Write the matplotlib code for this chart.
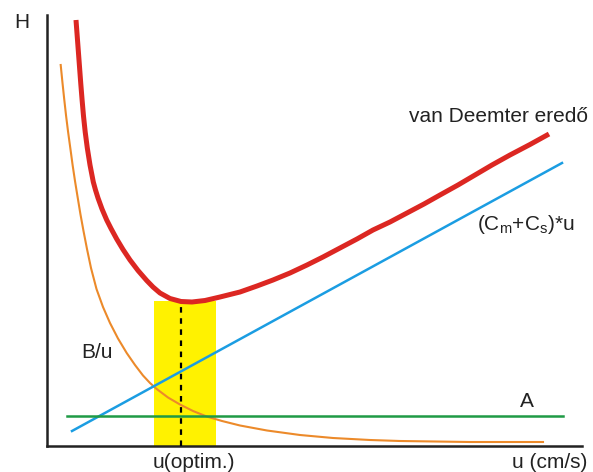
import matplotlib
matplotlib.use("Agg")
import matplotlib.pyplot as plt

plt.rcParams['font.family'] = ['Liberation Sans', 'DejaVu Sans']
plt.rcParams['mathtext.fontset'] = 'custom'
plt.rcParams['mathtext.rm'] = 'Liberation Sans'
plt.rcParams['mathtext.it'] = 'Liberation Sans'

# van Deemter eredő (arbitrary units)
red_x = [29, 30.2, 31.4, 32.6, 33.8, 35.1, 36.5, 38.2, 40.3, 43, 46.3, 48.5, 51, 55, 59.7,
         64, 69.7, 76, 83, 91, 99.7, 106, 113, 123, 134, 145, 158, 173, 193, 210, 226,
         243, 260, 276, 293, 310, 326, 343, 360, 377, 393, 411, 428, 445, 463, 483, 502]
red_y = [426, 410, 394, 378, 362, 346, 330, 314, 298, 281, 264, 256, 248, 237, 226,
         217.5, 207, 196.5, 186, 175.5, 165.5, 159, 153, 147.5, 144.5, 144, 145.5, 149,
         154, 160, 166, 173, 181, 189, 198, 207, 216, 224, 233, 242, 251, 261, 271, 281,
         291, 301.5, 312]

# B/u
orange_x = [13.7, 15.4, 17.2, 19.1, 21.1, 23.3, 25.6, 28, 30.6, 33.4, 36.5, 40, 44, 49.5,
            56, 63, 71, 79.7, 88, 96, 103, 109.7, 121, 133, 146, 159.7, 175, 193, 220,
            253, 286, 323, 353, 423, 496]
orange_y = [381, 364, 347, 330, 314, 298, 281, 265, 249, 232, 215, 197, 178, 157,
            139, 123, 107.5, 93, 81, 70.5, 63, 57, 48.5, 41.5, 35, 29.5, 25, 20.5, 15.5,
            11, 8, 6, 5, 4, 4]

# (Cm+Cs)*u
blue_x = [25, 515]
blue_y = [15, 283]

# A
green_x = [20, 516]
green_y = [30, 30]

u_opt = 134
band = [107, 169]
band_top = 145

fig = plt.figure(figsize=(5.93, 4.72), dpi=100)
ax = fig.add_axes([47 / 593, 26 / 472, 535 / 593, 431 / 472])
ax.set_xlim(0, 535)
ax.set_ylim(0, 431)

ax.fill_between(band, 0, band_top, color='#fff200', lw=0, zorder=1)
ax.plot(orange_x, orange_y, color='#ec8a2a', lw=1.5, solid_joinstyle='round', zorder=2)
ax.plot(blue_x, blue_y, color='#1b9de2', lw=1.8, zorder=2)
ax.plot(green_x, green_y, color='#1f9a45', lw=1.8, zorder=2)
ax.vlines(u_opt, 0, band_top, colors='black', lw=1.6, linestyles=(0, (2.5, 2.5)), zorder=3)
ax.plot(red_x, red_y, color='#dc2722', lw=3.6, solid_capstyle='butt',
        solid_joinstyle='round', zorder=4)

for s in ['top', 'right']:
    ax.spines[s].set_visible(False)
for s in ['left', 'bottom']:
    ax.spines[s].set_linewidth(1.8)
    ax.spines[s].set_color('#222222')
ax.set_xticks([])
ax.set_yticks([])

fs = 15
ax.text(-33, 418, 'H', fontsize=fs, color='#222222', clip_on=False)
ax.text(362, 324, 'van Deemter eredő', fontsize=fs, color='#222222', clip_on=False)
ax.text(430, 216, r'(C$_{\rm m}$+C$_{\rm s}$)*u', fontsize=fs, color='#222222', clip_on=False)
ax.text(34, 88, 'B/u', fontsize=fs, color='#222222')
ax.text(473, 39, 'A', fontsize=fs, color='#222222')
ax.text(147, -22, 'u(optim.)', fontsize=fs, color='#222222', ha='center', clip_on=False)
ax.text(465, -22, 'u (cm/s)', fontsize=fs, color='#222222', clip_on=False)

fig.savefig('out.png', dpi=100)
